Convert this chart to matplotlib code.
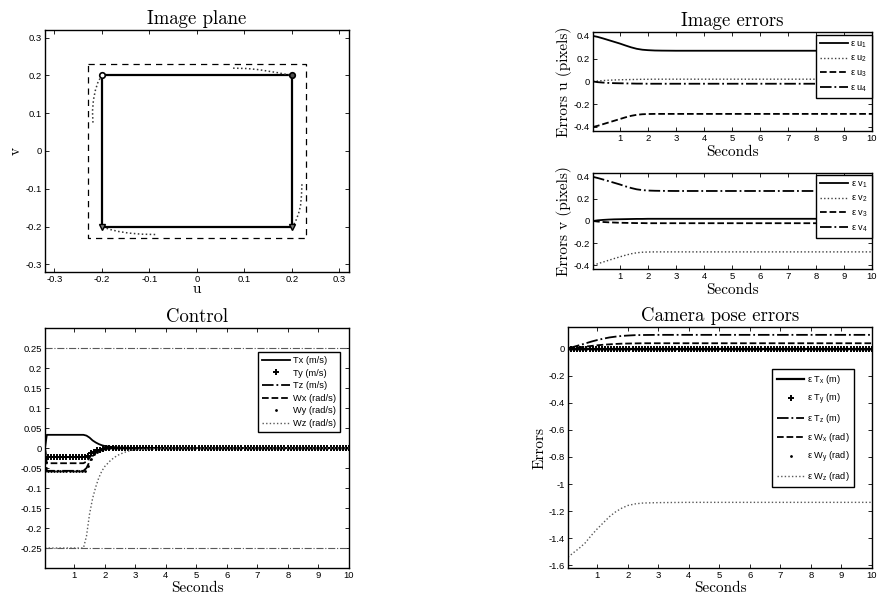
import matplotlib
matplotlib.use("Agg")
import matplotlib.pyplot as plt
import numpy as np

plt.rcParams['font.family'] = ['Liberation Sans', 'DejaVu Sans']
plt.rcParams['axes.unicode_minus'] = False
plt.rcParams['mathtext.fontset'] = 'custom'
plt.rcParams['mathtext.rm'] = 'Liberation Sans'
plt.rcParams['mathtext.it'] = 'Liberation Sans'

# ---- image plane ----
desired_u = [-0.2, 0.2, 0.2, -0.2, -0.2]
desired_v = [0.2, 0.2, -0.2, -0.2, 0.2]
bound_u = [-0.23, 0.23, 0.23, -0.23, -0.23]
bound_v = [0.23, 0.23, -0.23, -0.23, 0.23]
traj1_u = [-0.219, -0.220, -0.218, -0.214, -0.209, -0.204, -0.2]
traj1_v = [0.075, 0.105, 0.135, 0.160, 0.180, 0.192, 0.2]
traj2_u = [0.076, 0.105, 0.130, 0.150, 0.170, 0.186, 0.2]
traj2_v = [0.219, 0.218, 0.215, 0.211, 0.207, 0.203, 0.2]
traj3_u = [0.221, 0.220, 0.218, 0.214, 0.209, 0.204, 0.2]
traj3_v = [-0.088, -0.118, -0.145, -0.165, -0.182, -0.194, -0.2]
traj4_u = [-0.088, -0.118, -0.145, -0.165, -0.182, -0.194, -0.2]
traj4_v = [-0.221, -0.220, -0.217, -0.213, -0.208, -0.203, -0.2]

# ---- image errors (key sample times) ----
t_err = [0.04, 0.2, 0.4, 0.6, 0.8, 1.0, 1.2, 1.4, 1.6, 1.8, 2.0, 2.25, 2.5,
         3.0, 4.0, 5.0, 6.0, 7.0, 8.0, 9.0, 10.0]
eu1 = [0.400, 0.392, 0.378, 0.363, 0.348, 0.333, 0.316, 0.300, 0.287, 0.279,
       0.275, 0.272, 0.271, 0.270, 0.270, 0.270, 0.270, 0.270, 0.270, 0.270, 0.270]
eu2 = [0.000, 0.004, 0.008, 0.011, 0.013, 0.015, 0.016, 0.017, 0.018, 0.019,
       0.019, 0.020, 0.020, 0.020, 0.020, 0.020, 0.020, 0.020, 0.020, 0.020, 0.020]
eu3 = [-0.400, -0.390, -0.375, -0.360, -0.345, -0.330, -0.315, -0.302, -0.293, -0.288,
       -0.286, -0.285, -0.285, -0.285, -0.285, -0.285, -0.285, -0.285, -0.285, -0.285, -0.285]
eu4 = [0.000, -0.006, -0.010, -0.013, -0.015, -0.016, -0.017, -0.018, -0.019, -0.019,
       -0.020, -0.020, -0.020, -0.020, -0.020, -0.020, -0.020, -0.020, -0.020, -0.020, -0.020]
ev1 = [0.000, 0.006, 0.010, 0.013, 0.015, 0.016, 0.017, 0.018, 0.019, 0.019,
       0.020, 0.020, 0.020, 0.020, 0.020, 0.020, 0.020, 0.020, 0.020, 0.020, 0.020]
ev2 = [-0.400, -0.388, -0.372, -0.356, -0.340, -0.325, -0.310, -0.297, -0.288, -0.283,
       -0.281, -0.280, -0.280, -0.280, -0.280, -0.280, -0.280, -0.280, -0.280, -0.280, -0.280]
ev3 = [0.000, -0.005, -0.009, -0.012, -0.014, -0.016, -0.017, -0.018, -0.019, -0.019,
       -0.020, -0.020, -0.020, -0.020, -0.020, -0.020, -0.020, -0.020, -0.020, -0.020, -0.020]
ev4 = [0.400, 0.390, 0.376, 0.361, 0.346, 0.331, 0.314, 0.299, 0.287, 0.280,
       0.276, 0.274, 0.273, 0.272, 0.272, 0.272, 0.272, 0.272, 0.272, 0.272, 0.272]

# ---- control ----
t_ctl = [0.04, 0.1, 0.5, 1.0, 1.3, 1.4, 1.5, 1.6, 1.7, 1.8, 1.9, 2.0, 2.2, 2.4,
         2.6, 2.8, 3.0, 4.0, 5.0, 6.0, 7.0, 8.0, 9.0, 10.0]
tx_ctl = [0.000, 0.033, 0.033, 0.033, 0.033, 0.031, 0.026, 0.019, 0.014, 0.010, 0.007, 0.005,
          0.003, 0.0015, 0.001, 0.0005, 0.0, 0.0, 0.0, 0.0, 0.0, 0.0, 0.0, 0.0]
tz_ctl = [0.000, -0.057, -0.057, -0.057, -0.057, -0.050, -0.034, -0.020, -0.012, -0.007, -0.004,
          -0.002, -0.001, 0.0, 0.0, 0.0, 0.0, 0.0, 0.0, 0.0, 0.0, 0.0, 0.0, 0.0]
wx_ctl = [0.000, -0.038, -0.038, -0.038, -0.038, -0.034, -0.024, -0.014, -0.008, -0.005, -0.003,
          -0.002, -0.001, 0.0, 0.0, 0.0, 0.0, 0.0, 0.0, 0.0, 0.0, 0.0, 0.0, 0.0]
wz_ctl = [-0.250, -0.250, -0.250, -0.250, -0.250, -0.220, -0.165, -0.126, -0.098, -0.075, -0.058,
          -0.046, -0.030, -0.019, -0.012, -0.007, -0.004, 0.0, 0.0, 0.0, 0.0, 0.0, 0.0, 0.0]
ctl_limit = 0.25

# marker series are sampled densely (100 samples over 0.04..10 s)
t_dense = np.linspace(0.04, 10.0, 100)
ty_ctl = [-0.022] * 14 + [-0.019, -0.013, -0.009, -0.006, -0.004, -0.002, -0.001] + [0.0] * 79
wy_ctl = [-0.057] * 14 + [-0.045, -0.028, -0.016, -0.009, -0.005, -0.003, -0.001] + [0.0] * 79

# ---- camera pose errors ----
tx_pose = [0.0] * 21
tz_pose = [0.005, 0.012, 0.025, 0.038, 0.052, 0.064, 0.074, 0.083, 0.089, 0.094,
           0.097, 0.100, 0.101, 0.102, 0.102, 0.102, 0.102, 0.102, 0.102, 0.102, 0.102]
wx_pose = [0.002, 0.005, 0.010, 0.015, 0.020, 0.025, 0.029, 0.032, 0.035, 0.037,
           0.038, 0.039, 0.040, 0.040, 0.040, 0.040, 0.040, 0.040, 0.040, 0.040, 0.040]
wz_pose = [-1.540, -1.510, -1.475, -1.435, -1.380, -1.330, -1.285, -1.240, -1.205, -1.178,
           -1.158, -1.146, -1.140, -1.137, -1.135, -1.135, -1.135, -1.135, -1.135, -1.135, -1.135]
ty_pose = [0.0] * 100
wy_pose = [0.0] * 100

serif = 'cmr10'
tick_fs = 6.8
leg_fs = 6.7
label_fs = 11
title_fs = 13.5
dotted = (0, (1, 1.6))


def style(ax):
    ax.tick_params(direction='in', top=True, right=True, length=3, width=0.6,
                   labelsize=tick_fs, pad=2)
    for s in ax.spines.values():
        s.set_linewidth(1.0)


def legend(ax, anchor, spacing):
    leg = ax.legend(loc='upper right', bbox_to_anchor=anchor, borderaxespad=0,
                    fontsize=leg_fs, handlelength=3.0, handletextpad=0.3,
                    labelspacing=spacing, borderpad=0.45, fancybox=False,
                    framealpha=1, edgecolor='black')
    leg.get_frame().set_linewidth(1.0)
    return leg


fig = plt.figure(figsize=(8.77, 6.03), dpi=100)

# image plane
ax = fig.add_axes([0.0513, 0.549, 0.3466, 0.4013])
ax.plot(bound_u, bound_v, 'k--', lw=0.9, dashes=(5, 4))
ax.plot(desired_u, desired_v, 'k-', lw=1.6)
for tu, tv in [(traj1_u, traj1_v), (traj2_u, traj2_v), (traj3_u, traj3_v), (traj4_u, traj4_v)]:
    ax.plot(tu, tv, color='0.2', lw=1.1, ls=dotted)
ax.plot([desired_u[0]], [desired_v[0]], 'o', mfc='white', mec='k', ms=4, mew=1.2)
ax.plot([desired_u[1]], [desired_v[1]], 'o', mfc='0.3', mec='k', ms=4, mew=1.2)
ax.plot(desired_u[2:4], desired_v[2:4], 'v', mfc='0.5', mec='k', ms=4, mew=1.0)
ax.set_xlim(-0.32, 0.32)
ax.set_ylim(-0.32, 0.32)
ticks = [-0.3, -0.2, -0.1, 0, 0.1, 0.2, 0.3]
ax.set_xticks(ticks)
ax.set_yticks(ticks)
ax.set_xticklabels(['%g' % v for v in ticks])
ax.set_yticklabels(['%g' % v for v in ticks])
style(ax)
ax.set_title('Image plane', fontfamily=serif, fontsize=title_fs, pad=4)
ax.set_xlabel('u', fontfamily=serif, fontsize=label_fs, labelpad=-1)
ax.set_ylabel('v', fontfamily=serif, fontsize=label_fs, labelpad=2)

# image errors u
ax = fig.add_axes([0.6762, 0.7828, 0.3181, 0.1642])
ax.plot(t_err, eu1, 'k-', lw=1.3, label='ε u$_1$')
ax.plot(t_err, eu2, color='0.25', lw=1.0, ls=dotted, label='ε u$_2$')
ax.plot(t_err, eu3, 'k--', lw=1.3, label='ε u$_3$')
ax.plot(t_err, eu4, 'k-.', lw=1.3, label='ε u$_4$')
ax.set_xlim(0.04, 10)
ax.set_ylim(-0.435, 0.435)
ax.set_xticks(range(1, 11))
ax.set_yticks([-0.4, -0.2, 0, 0.2, 0.4])
ax.set_yticklabels(['-0.4', '-0.2', '0', '0.2', '0.4'])
style(ax)
legend(ax, (1.0, 0.97), 0.45)
ax.set_title('Image errors', fontfamily=serif, fontsize=title_fs, pad=4)
ax.set_xlabel('Seconds', fontfamily=serif, fontsize=label_fs, labelpad=1.5)
ax.set_ylabel('Errors u (pixels)', fontfamily=serif, fontsize=label_fs, labelpad=1)

# image errors v
ax = fig.add_axes([0.6762, 0.5539, 0.3181, 0.1592])
ax.plot(t_err, ev1, 'k-', lw=1.3, label='ε v$_1$')
ax.plot(t_err, ev2, color='0.25', lw=1.0, ls=dotted, label='ε v$_2$')
ax.plot(t_err, ev3, 'k--', lw=1.3, label='ε v$_3$')
ax.plot(t_err, ev4, 'k-.', lw=1.3, label='ε v$_4$')
ax.set_xlim(0.04, 10)
ax.set_ylim(-0.435, 0.435)
ax.set_xticks(range(1, 11))
ax.set_yticks([-0.4, -0.2, 0, 0.2, 0.4])
ax.set_yticklabels(['-0.4', '-0.2', '0', '0.2', '0.4'])
style(ax)
legend(ax, (1.0, 0.979), 0.45)
ax.set_xlabel('Seconds', fontfamily=serif, fontsize=label_fs, labelpad=1.5)
ax.set_ylabel('Errors v (pixels)', fontfamily=serif, fontsize=label_fs, labelpad=1)

# control
ax = fig.add_axes([0.0513, 0.058, 0.3466, 0.398])
ax.axhline(ctl_limit, color='0.35', lw=0.8, ls='-.')
ax.axhline(-ctl_limit, color='0.35', lw=0.8, ls='-.')
ax.plot(t_ctl, tx_ctl, 'k-', lw=1.3, label='Tx (m/s)')
ax.plot(t_dense, ty_ctl, 'k+', ms=4, mew=1.4, label='Ty (m/s)')
ax.plot(t_ctl, tz_ctl, 'k-.', lw=1.3, label='Tz (m/s)')
ax.plot(t_ctl, wx_ctl, 'k--', lw=1.3, label='Wx (rad/s)')
ax.plot(t_dense, wy_ctl, 'k.', ms=2, label='Wy (rad/s)')
ax.plot(t_ctl, wz_ctl, color='0.35', lw=1.0, ls=dotted, label='Wz (rad/s)')
ax.set_xlim(0.04, 10)
ax.set_ylim(-0.3, 0.3)
ax.set_xticks(range(1, 11))
cticks = [-0.25, -0.2, -0.15, -0.1, -0.05, 0, 0.05, 0.1, 0.15, 0.2, 0.25]
ax.set_yticks(cticks)
ax.set_yticklabels(['%g' % v for v in cticks])
style(ax)
legend(ax, (0.970, 0.90), 0.38)
ax.set_title('Control', fontfamily=serif, fontsize=title_fs, pad=4)
ax.set_xlabel('Seconds', fontfamily=serif, fontsize=label_fs, labelpad=1)

# camera pose errors
ax = fig.add_axes([0.6477, 0.058, 0.3466, 0.3997])
ax.plot(t_err, tx_pose, 'k-', lw=1.6, label='ε T$_\\mathregular{x}$ (m)')
ax.plot(t_dense, ty_pose, 'k+', ms=4, mew=1.4, label='ε T$_\\mathregular{y}$ (m)')
ax.plot(t_err, tz_pose, 'k-.', lw=1.3, label='ε T$_\\mathregular{z}$ (m)')
ax.plot(t_err, wx_pose, 'k--', lw=1.3, label='ε W$_\\mathregular{x}$ (rad)')
ax.plot(t_dense, wy_pose, 'k.', ms=2, label='ε W$_\\mathregular{y}$ (rad)')
ax.plot(t_err, wz_pose, color='0.35', lw=1.0, ls=dotted, label='ε W$_\\mathregular{z}$ (rad)')
ax.set_xlim(0.04, 10)
ax.set_ylim(-1.62, 0.16)
ax.set_xticks(range(1, 11))
pticks = [-1.6, -1.4, -1.2, -1, -0.8, -0.6, -0.4, -0.2, 0]
ax.set_yticks(pticks)
ax.set_yticklabels(['%g' % v for v in pticks])
style(ax)
legend(ax, (0.941, 0.826), 0.6)
ax.set_title('Camera pose errors', fontfamily=serif, fontsize=title_fs, pad=4)
ax.set_xlabel('Seconds', fontfamily=serif, fontsize=label_fs, labelpad=1)
ax.set_ylabel('Errors', fontfamily=serif, fontsize=label_fs, labelpad=2)

fig.savefig('out.png', dpi=100)
